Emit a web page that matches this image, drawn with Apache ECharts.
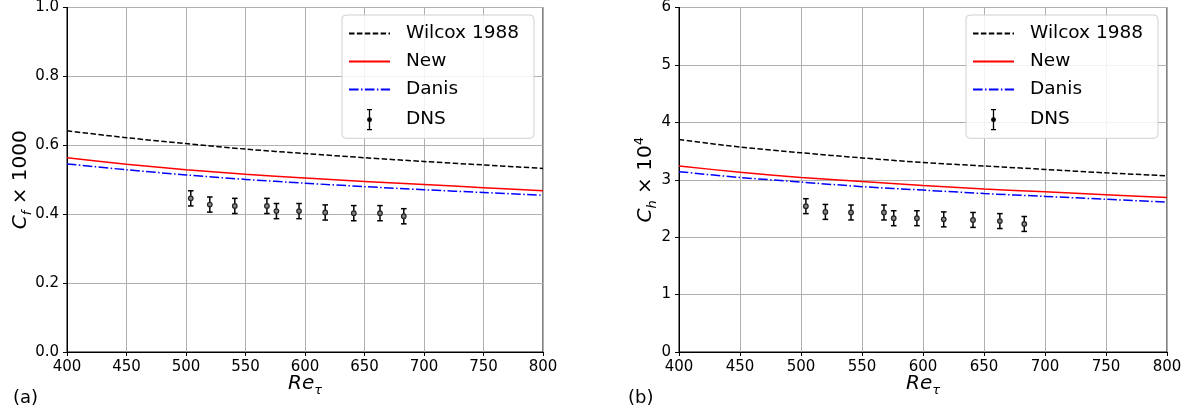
<!DOCTYPE html>
<html>
<head>
<meta charset="utf-8">
<script src="https://cdn.jsdelivr.net/npm/echarts@6/dist/echarts.min.js"></script>
<style>html,body{margin:0;padding:0;background:#fff;}#c{width:1193px;height:416px;}</style>
</head>
<body>
<div id="c"></div>
<script>
// ---- data ----
const reCurve = [400, 450, 500, 550, 600, 650, 700, 750, 800];
const cfWilcox = [0.642, 0.622, 0.605, 0.589, 0.576, 0.564, 0.553, 0.543, 0.533];
const cfNew    = [0.564, 0.545, 0.529, 0.516, 0.505, 0.495, 0.486, 0.477, 0.468];
const cfDanis  = [0.546, 0.529, 0.514, 0.501, 0.490, 0.480, 0.471, 0.463, 0.455];
const chWilcox = [3.70, 3.57, 3.47, 3.38, 3.30, 3.24, 3.18, 3.12, 3.07];
const chNew    = [3.24, 3.13, 3.04, 2.97, 2.90, 2.84, 2.79, 2.74, 2.69];
const chDanis  = [3.14, 3.04, 2.96, 2.88, 2.82, 2.76, 2.71, 2.66, 2.61];
const reDns = [504, 520, 541, 568, 576, 595, 617, 641, 663, 683];
const cfDns = [0.446, 0.428, 0.424, 0.424, 0.409, 0.409, 0.405, 0.403, 0.403, 0.394];
const cfErr = [0.022, 0.022, 0.022, 0.022, 0.022, 0.022, 0.022, 0.022, 0.022, 0.022];
const chDns = [2.54, 2.44, 2.43, 2.43, 2.33, 2.33, 2.31, 2.30, 2.28, 2.23];
const chErr = [0.13, 0.13, 0.13, 0.13, 0.13, 0.13, 0.13, 0.13, 0.13, 0.13];
const xTicks = {min: 400, max: 800, interval: 50};
const seriesNames = ['Wilcox 1988', 'New', 'Danis', 'DNS'];

const FONT = 'DejaVu Sans';
const pairs = (xs, ys) => xs.map((x, i) => [x, ys[i]]);
const triples = (xs, ys, es) => xs.map((x, i) => [x, ys[i], es[i]]);

function errRender(params, api) {
  const x = api.value(0), y = api.value(1), e = api.value(2);
  const c = api.coord([x, y]);
  const hi = api.coord([x, y + e]);
  const lo = api.coord([x, y - e]);
  const cap = 2.8;
  const st = {stroke: '#000', lineWidth: 1.5, fill: null};
  return {type: 'group', children: [
    {type: 'line', shape: {x1: c[0], y1: hi[1], x2: c[0], y2: lo[1]}, style: st},
    {type: 'line', shape: {x1: c[0] - cap, y1: hi[1], x2: c[0] + cap, y2: hi[1]}, style: st},
    {type: 'line', shape: {x1: c[0] - cap, y1: lo[1], x2: c[0] + cap, y2: lo[1]}, style: st},
    {type: 'circle', shape: {cx: c[0], cy: c[1], r: 2.3}, style: {stroke: '#222', fill: '#888', lineWidth: 1.2}}
  ]};
}

const lineStyles = [
  {color: '#000000', width: 1.5, type: [5.5, 2.4]},
  {color: '#ff0000', width: 1.5, type: 'solid'},
  {color: '#0000ff', width: 1.5, type: [9.6, 2.4, 1.5, 2.4]}
];

function lineSeries(name, xs, ys, idx, style) {
  return {
    name: name, type: 'line', xAxisIndex: idx, yAxisIndex: idx,
    data: pairs(xs, ys), symbol: 'none', smooth: 0.3,
    lineStyle: style, itemStyle: {color: style.color}, z: 3
  };
}

function dnsSeries(xs, ys, es, idx) {
  return {
    name: 'DNS', type: 'custom', xAxisIndex: idx, yAxisIndex: idx,
    data: triples(xs, ys, es), renderItem: errRender,
    itemStyle: {color: '#000'}, z: 4,
    encode: {x: 0, y: 1}
  };
}

const dnsIcon = 'path://M0 0M41 22M18 1L23 1M20.5 1L20.5 21M18 21L23 21M22.3 11A1.8 1.8 0 1 1 18.7 11A1.8 1.8 0 1 1 22.3 11Z';

function legendFor(left) {
  return {
    orient: 'vertical', left: left, top: 15,
    padding: [9, 15, 7, 6],
    itemWidth: 41, itemHeight: 22, itemGap: 9.0,
    backgroundColor: 'rgba(255,255,255,0.85)',
    borderColor: '#d0d0d0', borderWidth: 1, borderRadius: 4,
    selectedMode: false,
    formatter: n => '{t|' + n + '}',
    textStyle: {
      fontFamily: FONT, fontSize: 18.5, color: '#000',
      rich: {t: {fontFamily: FONT, fontSize: 18.5, color: '#000', padding: [0, 0, 0, 11], lineHeight: 22}}
    },
    data: [
      {name: seriesNames[0], itemStyle: {opacity: 0}},
      {name: seriesNames[1], itemStyle: {opacity: 0}},
      {name: seriesNames[2], itemStyle: {opacity: 0}},
      {name: seriesNames[3], icon: dnsIcon, itemStyle: {color: '#000', borderColor: '#000', borderWidth: 1.3}}
    ]
  };
}

function xAxisFor(idx) {
  return {
    type: 'value', gridIndex: idx, min: xTicks.min, max: xTicks.max, interval: xTicks.interval,
    name: '{i|Re}{s|τ}', nameLocation: 'middle', nameGap: 19, nameMoveOverlap: false,
    nameTextStyle: {rich: {
      i: {fontFamily: FONT, fontStyle: 'italic', fontSize: 20, lineHeight: 26, color: '#000'},
      s: {fontFamily: FONT, fontStyle: 'italic', fontSize: 13, lineHeight: 12, verticalAlign: 'bottom', color: '#000'}
    }},
    axisLine: {show: true, onZero: false, lineStyle: {color: '#000', width: 1}},
    axisTick: {show: true, length: 4, lineStyle: {color: '#000', width: 1}},
    axisLabel: {fontFamily: FONT, fontSize: 15, color: '#000', margin: 8},
    splitLine: {show: true, lineStyle: {color: '#b0b0b0', width: 1}}
  };
}

function yAxisFor(idx, max, interval, fmt, name, rich, gap) {
  return {
    type: 'value', gridIndex: idx, min: 0, max: max, interval: interval,
    name: name, nameLocation: 'middle', nameGap: gap, nameMoveOverlap: false,
    nameTextStyle: {rich: rich},
    axisLine: {show: true, lineStyle: {color: '#000', width: 1}},
    axisTick: {show: true, length: 4, lineStyle: {color: '#000', width: 1}},
    axisLabel: {fontFamily: FONT, fontSize: 15, color: '#000', margin: 8, formatter: fmt},
    splitLine: {show: true, lineStyle: {color: '#b0b0b0', width: 1}}
  };
}

const richBase = {
  i: {fontFamily: FONT, fontStyle: 'italic', fontSize: 20, lineHeight: 26, color: '#000'},
  n: {fontFamily: FONT, fontSize: 20, lineHeight: 26, color: '#000'},
  s: {fontFamily: FONT, fontStyle: 'italic', fontSize: 13, lineHeight: 12, verticalAlign: 'bottom', color: '#000'},
  p: {fontFamily: FONT, fontSize: 13, lineHeight: 12, verticalAlign: 'top', color: '#000'}
};

const chart = echarts.init(document.getElementById('c'), null, {renderer: 'canvas'});
chart.setOption({
  animation: false,
  backgroundColor: '#fff',
  textStyle: {fontFamily: FONT},
  grid: [
    {left: 67, right: 650, top: 5, bottom: 64, show: true, borderColor: '#000', borderWidth: 1, containLabel: false},
    {left: 679, right: 26, top: 5, bottom: 64, show: true, borderColor: '#000', borderWidth: 1, containLabel: false}
  ],
  xAxis: [xAxisFor(0), xAxisFor(1)],
  yAxis: [
    yAxisFor(0, 1, 0.2, v => v.toFixed(1), '{i|C}{s|f}{n| × 1000}', richBase, 33),
    yAxisFor(1, 6, 1, v => String(v), '{i|C}{s|h}{n| × 10}{p|4}', richBase, 20)
  ],
  legend: [legendFor(342), legendFor(966)],
  series: [
    lineSeries(seriesNames[0], reCurve, cfWilcox, 0, lineStyles[0]),
    lineSeries(seriesNames[1], reCurve, cfNew, 0, lineStyles[1]),
    lineSeries(seriesNames[2], reCurve, cfDanis, 0, lineStyles[2]),
    dnsSeries(reDns, cfDns, cfErr, 0),
    lineSeries(seriesNames[0], reCurve, chWilcox, 1, lineStyles[0]),
    lineSeries(seriesNames[1], reCurve, chNew, 1, lineStyles[1]),
    lineSeries(seriesNames[2], reCurve, chDanis, 1, lineStyles[2]),
    dnsSeries(reDns, chDns, chErr, 1)
  ],
  graphic: [
    {type: 'text', left: 13, top: 389, style: {text: '(a)', fontFamily: FONT, fontSize: 18, fill: '#000'}},
    {type: 'text', left: 628, top: 389, style: {text: '(b)', fontFamily: FONT, fontSize: 18, fill: '#000'}}
  ]
});
</script>
</body>
</html>
